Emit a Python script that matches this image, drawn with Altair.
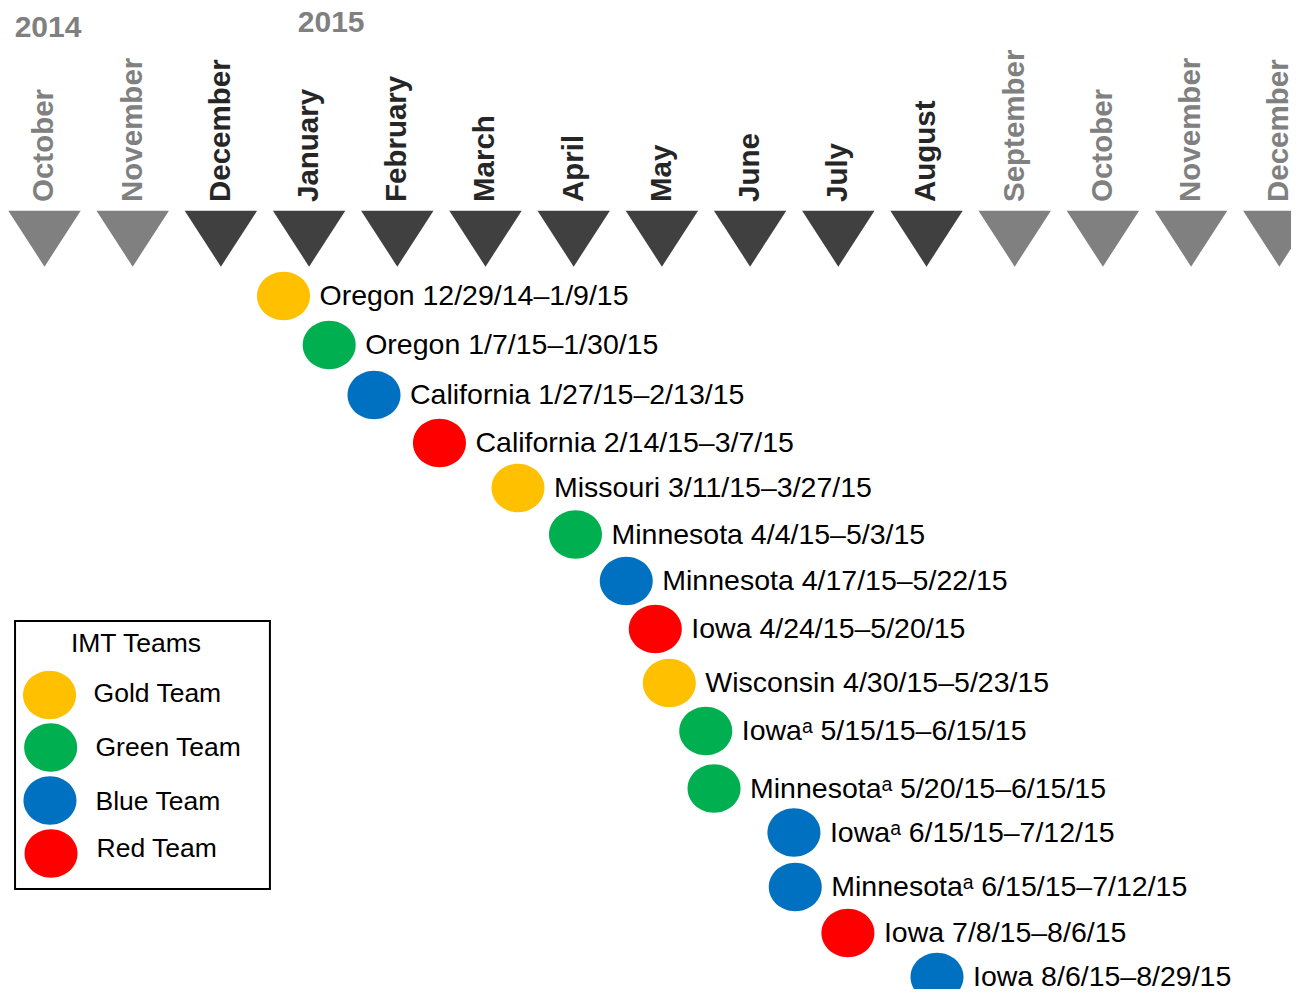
import altair as alt
import pandas as pd

# ---------------- data ----------------
month_names = ["October", "November", "December", "January", "February", "March",
               "April", "May", "June", "July", "August", "September", "October",
               "November", "December"]
month_in_period = [False, False, True, True, True, True, True, True, True, True,
                   True, False, False, False, False]

year_labels = ["2014", "2015"]
year_month_pos = [0.04, 3.25]
year_row_y = [27.5, 22.5]

sites = ["Oregon", "Oregon", "California", "California", "Missouri", "Minnesota",
         "Minnesota", "Iowa", "Wisconsin", "Iowa", "Minnesota", "Iowa", "Minnesota",
         "Iowa", "Iowa"]
footnote_a = [False, False, False, False, False, False, False, False, False,
              True, True, True, True, False, False]
date_ranges = ["12/29/14–1/9/15", "1/7/15–1/30/15", "1/27/15–2/13/15",
               "2/14/15–3/7/15", "3/11/15–3/27/15", "4/4/15–5/3/15",
               "4/17/15–5/22/15", "4/24/15–5/20/15", "4/30/15–5/23/15",
               "5/15/15–6/15/15", "5/20/15–6/15/15", "6/15/15–7/12/15",
               "6/15/15–7/12/15", "7/8/15–8/6/15", "8/6/15–8/29/15"]
teams = ["Gold Team", "Green Team", "Blue Team", "Red Team", "Gold Team",
         "Green Team", "Blue Team", "Red Team", "Gold Team", "Green Team",
         "Green Team", "Blue Team", "Blue Team", "Red Team", "Blue Team"]
# horizontal position in months after October 2014 (as placed in the picture)
event_month_pos = [2.710, 3.228, 3.736, 4.478, 5.368, 6.020, 6.596, 6.925,
                   7.084, 7.497, 7.591, 8.497, 8.512, 9.109, 10.119]
# vertical row position (picture units, top = 0)
event_row_y = [296, 345, 395, 443, 488, 534.5, 581, 629, 683, 731, 788.5,
               832.5, 887, 933, 977]

team_names = ["Gold Team", "Green Team", "Blue Team", "Red Team"]
team_colors = ["#FFC000", "#00B050", "#0070C0", "#FF0000"]
legend_title = "IMT Teams"

# ---------------- layout ----------------
FONT = "Liberation Sans, Arial, Helvetica, sans-serif"
W, H = 1283, 981
xs = alt.Scale(domain=[-0.4138, 14.1327], nice=False, zero=False)
ys = alt.Scale(domain=[8, 989], reverse=True, nice=False, zero=False)

TRI = "M-1,-0.773L1,-0.773L0,0.773Z"
ELL = "M-1,0A1,0.915,0,1,1,1,0A1,0.915,0,1,1,-1,0Z"

months_df = pd.DataFrame({"m": list(range(len(month_names))),
                          "name": month_names,
                          "active": month_in_period})
years_df = pd.DataFrame({"m": year_month_pos, "y": year_row_y, "label": year_labels})
events_df = pd.DataFrame({
    "m": event_month_pos,
    "y": event_row_y,
    "team": teams,
    "label": [f"{s}{'ᵃ' if f else ''} {d}" for s, d, f in zip(sites, date_ranges, footnote_a)],
})
legend_df = pd.DataFrame({
    "team": team_names,
    "m": [0.057, 0.070, 0.062, 0.074],
    "y": [695, 747.5, 800.5, 853.5],
    "tm": [0.556, 0.578, 0.578, 0.590],
    "ty": [694, 748, 802, 849],
})

def X(field="m"):
    return alt.X(f"{field}:Q", scale=xs, axis=None)

def Y(field="y"):
    return alt.Y(f"{field}:Q", scale=ys, axis=None)

team_color = alt.Color("team:N", scale=alt.Scale(domain=team_names, range=team_colors),
                       legend=None)

triangles = alt.Chart(months_df).mark_point(
    shape=TRI, size=5242, filled=True, opacity=1, strokeWidth=0, clip=True
).encode(
    x=X(),
    y=alt.Y(datum=238.7, type="quantitative", scale=ys, axis=None),
    color=alt.condition("datum.active", alt.value("#404040"), alt.value("#808080")),
)

month_text = alt.Chart(months_df).mark_text(
    angle=270, align="left", baseline="middle", font=FONT, fontSize=29.5,
    fontWeight="bold", clip=True
).encode(
    x=X(),
    y=alt.Y(datum=202, type="quantitative", scale=ys, axis=None),
    text="name:N",
    color=alt.condition("datum.active", alt.value("#262626"), alt.value("#808080")),
)

year_text = alt.Chart(years_df).mark_text(
    align="center", baseline="middle", font=FONT, fontSize=30, fontWeight="bold",
    color="#808080"
).encode(x=X(), y=Y(), text="label:N")

event_dots = alt.Chart(events_df).mark_point(
    shape=ELL, size=2809, filled=True, opacity=1, strokeWidth=0
).encode(x=X(), y=Y(), color=team_color)

event_text = alt.Chart(events_df).mark_text(
    align="left", baseline="middle", dx=36, font=FONT, fontSize=28.5, color="#000000"
).encode(x=X(), y=Y(), text="label:N")

legend_box = alt.Chart(pd.DataFrame({"a": [0]})).mark_rect(
    fill="white", fillOpacity=0, stroke="#000000", strokeWidth=2
).encode(
    x=alt.X(datum=-0.334, type="quantitative", scale=xs, axis=None),
    x2=alt.X2(datum=2.556),
    y=alt.Y(datum=621, type="quantitative", scale=ys, axis=None),
    y2=alt.Y2(datum=889),
)

legend_title_text = alt.Chart(pd.DataFrame({"t": [legend_title]})).mark_text(
    align="center", baseline="middle", font=FONT, fontSize=26.5, color="#000000"
).encode(
    x=alt.X(datum=1.037, type="quantitative", scale=xs, axis=None),
    y=alt.Y(datum=644, type="quantitative", scale=ys, axis=None),
    text="t:N",
)

legend_dots = alt.Chart(legend_df).mark_point(
    shape=ELL, size=2809, filled=True, opacity=1, strokeWidth=0
).encode(x=X(), y=Y(), color=team_color)

legend_text = alt.Chart(legend_df).mark_text(
    align="left", baseline="middle", font=FONT, fontSize=26.5, color="#000000"
).encode(x=X("tm"), y=Y("ty"), text="team:N")

chart = alt.layer(
    triangles, month_text, year_text, event_dots, event_text,
    legend_box, legend_title_text, legend_dots, legend_text
).properties(
    width=W, height=H, padding=0, autosize=alt.AutoSizeParams(type="none"),
    background="white"
).configure_view(stroke=None)

chart.save("out.html", embed_options={"renderer": "svg", "actions": False})
